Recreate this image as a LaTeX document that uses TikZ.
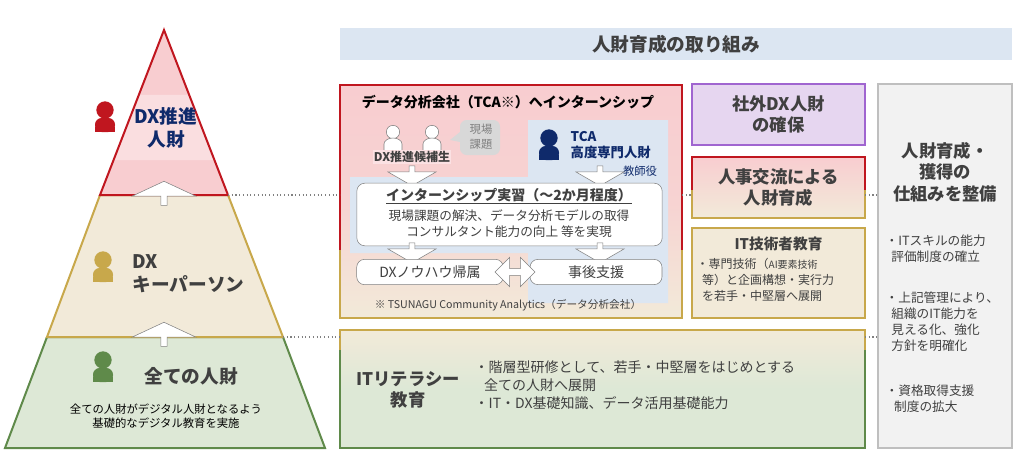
\documentclass[tikz,border=0pt]{standalone}
\usepackage{fontspec}
\setmainfont{Noto Sans CJK JP}
\usetikzlibrary{positioning,shapes.arrows}
\definecolor{navyc}{HTML}{0F2A6B}
\definecolor{redc}{HTML}{C0161F}
\definecolor{goldc}{HTML}{C8A84B}
\definecolor{greenc}{HTML}{5F8A4A}
\definecolor{pinkf}{HTML}{F8CDD0}
\definecolor{creamf}{HTML}{F2EAD9}
\definecolor{greenf}{HTML}{DDE8D6}
\definecolor{bluef}{HTML}{DCE6F2}
\definecolor{lavf}{HTML}{E6D6F0}
\definecolor{purc}{HTML}{A065D0}
\definecolor{grayf}{HTML}{F2F2F2}
\definecolor{grayc}{HTML}{BFBFBF}
\definecolor{textc}{HTML}{404040}
\tikzset{
  upbox/.style={single arrow, draw=gray, fill=white, shape border rotate=90, minimum height=18pt, minimum width=48pt, single arrow head extend=11pt, single arrow tip angle=130, inner sep=1pt},
  downbox/.style={single arrow, draw=gray, fill=white, shape border rotate=270, minimum height=15pt, minimum width=36pt, single arrow head extend=9pt, single arrow tip angle=120, inner sep=1pt},
  roundbox/.style={draw=gray, fill=white, rounded corners=6pt},
  dotline/.style={gray, dotted, thick},
  bodytext/.style={text=textc, font=\fontsize{9.5}{12}\selectfont, align=left}
}
\newcommand\personicon[3]{% x, y, colour
  \fill[#3] (#1,#2-8) circle [radius=6.5pt];
  \fill[#3, rounded corners=5pt] (#1-10,#2+14) -- (#1-10,#2) -- (#1+10,#2) -- (#1+10,#2+14) -- cycle;
  \fill[#3] (#1-10,#2+9) rectangle (#1+10,#2+14);
}
\newcommand\outlineicon[2]{%
  \draw[gray, fill=white] (#1,#2-6) circle [radius=5pt];
  \draw[gray, fill=white] (#1-9,#2+12) -- (#1-9,#2+6) arc [start angle=180, end angle=0, x radius=6.75pt, y radius=4.5pt] -- (#1+9,#2+12);
}
\begin{document}
\begin{tikzpicture}[x=0.75pt,y=-0.75pt]
\useasboundingbox (0,0) rectangle (1028,467);

% pyramid
\fill[greenf] (5,448) -- (47,337) -- (283,337) -- (325,448) -- cycle;
\fill[creamf] (47,337) -- (100,195) -- (228,195) -- (283,337) -- cycle;
\fill[pinkf] (100,195) -- (164,30) -- (228,195) -- cycle;
\fill[white, opacity=0.35] (139,95) -- (189,95) -- (214,160) -- (114,160) -- cycle;
\draw[greenc, line width=1.5pt] (47,337) -- (5,448) -- (325,448) -- (283,337) -- cycle;
\draw[goldc, line width=1.5pt] (100,195) -- (47,337) -- (283,337) -- (228,195) -- cycle;
\draw[redc, line width=1.5pt] (100,195) -- (164,30) -- (228,195) -- cycle;
\node[upbox] (upa) at (164,194) {};
\node[upbox] (upb) at (164,335) {};

\personicon{105}{118}{redc}
\personicon{103}{268}{goldc}
\personicon{103}{368}{greenc}
\node[text=navyc, font=\fontsize{14}{17}\selectfont\bfseries, align=center] (topt) at (166,128) {DX推進\\人財};
\node[text=textc, font=\fontsize{14}{17}\selectfont\bfseries, align=left, anchor=west] (midt) at (128,274) {DX\\キーパーソン};
\node[text=textc, font=\fontsize{14}{17}\selectfont\bfseries] (lowt) at (191,376) {全ての人財};
\node[text=black, font=\fontsize{8.5}{11}\selectfont, align=center] (lows) at (166,416) {全ての人財がデジタル人財となるよう\\基礎的なデジタル教育を実施};

% header
\fill[bluef] (340,28) rectangle (1012,60);
\node[text=textc, font=\fontsize{14}{17}\selectfont\bfseries] (head) at (676,44) {人財育成の取り組み};

% TCA box
\shade[top color=pinkf, bottom color=creamf, middle color=pinkf!80!creamf] (340,85) rectangle (682,318);
\draw[redc, line width=1.3pt] (340,318) -- (340,85) -- (682,85) -- (682,318);
\draw[goldc, line width=1.3pt] (340,250) -- (340,318) -- (682,318) -- (682,250);
\node[text=black, font=\fontsize{10.5}{13}\selectfont\bfseries] (tcat) at (508,102) {データ分析会社（TCA※）へインターンシップ};
\fill[bluef] (528,120) -- (668,120) -- (668,303) -- (528,303) -- (528,253) -- (350,253) -- (350,177) -- (528,177) -- cycle;
\outlineicon{393}{138}
\outlineicon{432}{138}
\node[fill=pinkf!60!white, text=textc, font=\fontsize{9}{11}\selectfont\bfseries, inner sep=1pt] (cand) at (412,157) {DX推進候補生};
\fill[grayc!60!white, rounded corners=5pt] (460,120) rectangle (500,155);
\fill[grayc!60!white] (460,132) -- (450,140) -- (460,142) -- cycle;
\node[text=gray, font=\fontsize{8.5}{11}\selectfont, align=center] (issue) at (481,137) {現場\\課題};
\personicon{549}{146}{navyc}
\node[text=navyc, font=\fontsize{10}{12}\selectfont\bfseries, align=left, anchor=west] (tcap) at (566,145) {TCA\\高度専門人財};
\node[text=navyc, font=\fontsize{8.5}{10}\selectfont] (tutor) at (640,171) {教師役};
\node[downbox] (dna) at (412,175) {};
\node[downbox] (dnb) at (600,175) {};
\node[roundbox, minimum width=229pt, minimum height=47pt] (intern) at (509.5,214.5) {};
\node[text=textc, font=\fontsize{10.5}{13}\selectfont\bfseries] (intt) at (509,196) {\underline{インターンシップ実習（～2か月程度）}};
\node[text=textc, font=\fontsize{9.5}{12}\selectfont, align=center] (intb) at (509,224) {現場課題の解決、データ分析モデルの取得\\コンサルタント能力の向上 等を実現};
\node[downbox] (dnc) at (412,252) {};
\node[downbox] (dnd) at (600,252) {};
\node[roundbox, minimum width=110pt, minimum height=19pt] (know) at (430,272) {};
\node[text=textc, font=\fontsize{10.5}{13}\selectfont] at (know) {DXノウハウ帰属};
\node[roundbox, minimum width=99pt, minimum height=19pt] (after) at (596,272) {};
\node[text=textc, font=\fontsize{10.5}{13}\selectfont] at (after) {事後支援};
\node[double arrow, draw=gray, fill=white, minimum height=30pt, minimum width=22pt, double arrow head extend=4pt, inner sep=1pt] (both) at (515,272) {};
\node[text=textc, font=\fontsize{8}{10}\selectfont] (note) at (508,305) {※ TSUNAGU Community Analytics（データ分析会社）};

% right column boxes
\draw[purc, line width=1.5pt, fill=lavf] (692,84) rectangle (865,145);
\node[text=textc, font=\fontsize{13}{16}\selectfont\bfseries, align=center] (ext) at (778.5,114.5) {社外DX人財\\の確保};
\shade[top color=pinkf, bottom color=creamf] (692,157) rectangle (865,218);
\draw[redc, line width=1.5pt] (692,190) -- (692,157) -- (865,157) -- (865,190);
\draw[goldc, line width=1.5pt] (692,190) -- (692,218) -- (865,218) -- (865,190);
\node[text=textc, font=\fontsize{13}{16}\selectfont\bfseries, align=center] (exch) at (778.5,187.5) {人事交流による\\人財育成};
\draw[goldc, line width=1.5pt, fill=creamf] (692,228) rectangle (865,318);
\node[text=textc, font=\fontsize{11}{13}\selectfont\bfseries] (itet) at (778.5,244) {IT技術者教育};
\node[bodytext, anchor=north west, font=\fontsize{9}{12}\selectfont] (iteb) at (692,254) {・専門技術（\fontsize{7.5}{9}\selectfont AI要素技術\\\fontsize{9}{12}\selectfont\ \ 等）と企画構想・実行力\\\ \ を若手・中堅層へ展開};

% literacy box
\shade[top color=creamf, bottom color=greenf, middle color=greenf] (340,330) rectangle (865,448);
\draw[goldc, line width=1.5pt] (340,350) -- (340,330) -- (865,330) -- (865,350);
\draw[greenc, line width=1.5pt] (340,350) -- (340,448) -- (865,448) -- (865,350);
\node[text=textc, font=\fontsize{13}{16}\selectfont\bfseries, align=center] (lit) at (408,390) {ITリテラシー\\教育};
\node[bodytext, anchor=north west, font=\fontsize{10.5}{13.5}\selectfont] (litb) at (470,356) {・階層型研修として、若手・中堅層をはじめとする\\\ \ \ 全ての人財へ展開\\・IT・DX基礎知識、データ活用基礎能力};

% gray box
\draw[grayc, line width=1.5pt, fill=grayf] (878,84) rectangle (1012,448);
\node[text=textc, font=\fontsize{13}{16}\selectfont\bfseries, align=center] (sys) at (945,172) {人財育成・\\獲得の\\仕組みを整備};
\node[bodytext, anchor=north west] (sysa) at (881,230) {・ITスキルの能力\\\ \ 評価制度の確立};
\node[bodytext, anchor=north west] (sysb) at (881,287) {・上記管理により、\\\ \ 組織のIT能力を\\\ \ 見える化、強化\\\ \ 方針を明確化};
\node[bodytext, anchor=north west] (sysc) at (881,380) {・資格取得支援\\\ \ \ 制度の拡大};

% dotted guides
\coordinate (pa) at (228,195);
\coordinate (pb) at (283,337);
\draw[dotline] (pa) -- (340,195);
\draw[dotline] (682,195) -- (692,195);
\draw[dotline] (865,195) -- (878,195);
\draw[dotline] (pb) -- (340,337);
\draw[dotline] (865,337) -- (878,337);
\end{tikzpicture}
\end{document}
